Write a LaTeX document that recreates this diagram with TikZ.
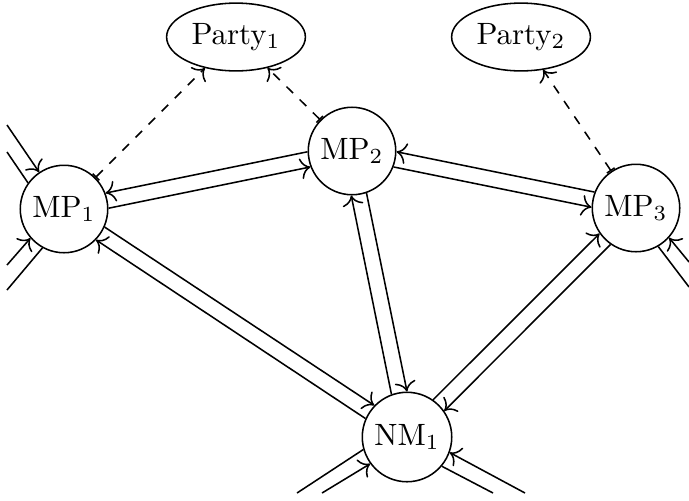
\documentclass[tikz,border=0pt]{standalone}
\usetikzlibrary{arrows.meta,shapes.geometric}

\begin{document}
\begin{tikzpicture}[
  x=0.0114cm, y=-0.0114cm,
  peer/.style={draw, circle, inner sep=2.4pt, line width=0.5pt},
  party/.style={draw, ellipse, inner xsep=1.5pt, line width=0.5pt},
  link/.style={-{To[scale=1.2]}, line width=0.5pt},
  claim/.style={dashed, {Bar[width=3pt]}-{To[scale=1.2]}, line width=0.5pt}
]
\useasboundingbox (0,0) rectangle (689,500);
\node[party] (party1) at (236,37) {Party$_1$};
\node[party] (party2) at (521,37) {Party$_2$};
\node[peer] (mp1) at (64,209) {MP$_1$};
\node[peer] (mp2) at (352,151) {MP$_2$};
\node[peer] (mp3) at (636,208) {MP$_3$};
\node[peer] (nm1) at (407,437) {NM$_1$};
% free ends of the outer links
\coordinate (w1) at (7,125);
\coordinate (w2) at (7,152);
\coordinate (w3) at (7,265);
\coordinate (w4) at (7,290);
\coordinate (e1) at (689,262);
\coordinate (e2) at (689,287);
\coordinate (s1) at (297,493);
\coordinate (s2) at (322,493);
\coordinate (s3) at (525,493);
\coordinate (s4) at (493,493);
\draw[claim] (mp1) -- (party1);
\draw[claim] (mp2) -- (party1);
\draw[claim] (mp3) -- (party2);
\draw[link] (mp2.181) -- (mp1.21);
\draw[link] (mp1.1) -- (mp2.201);
\draw[link] (mp3.159) -- (mp2.-1);
\draw[link] (mp2.339) -- (mp3.179);
\draw[link] (mp1.-24) -- (nm1.136);
\draw[link] (nm1.156) -- (mp1.-44);
\draw[link] (nm1.110) -- (mp2.-91);
\draw[link] (mp2.-71) -- (nm1.90);
\draw[link] (nm1.55) -- (mp3.215);
\draw[link] (mp3.235) -- (nm1.35);
\draw[link] (w1) -- (mp1.124);
\draw[line width=0.5pt] (w2) -- (mp1.144);
\draw[link] (w3) -- (mp1.221);
\draw[line width=0.5pt] (w4) -- (mp1.241);
\draw[link] (e1) -- (mp3.-42);
\draw[line width=0.5pt] (e2) -- (mp3.-60);
\draw[line width=0.5pt] (s1) -- (nm1.196);
\draw[link] (s2) -- (nm1.216);
\draw[link] (s3) -- (nm1.-20);
\draw[line width=0.5pt] (s4) -- (nm1.-40);
\end{tikzpicture}
\end{document}
